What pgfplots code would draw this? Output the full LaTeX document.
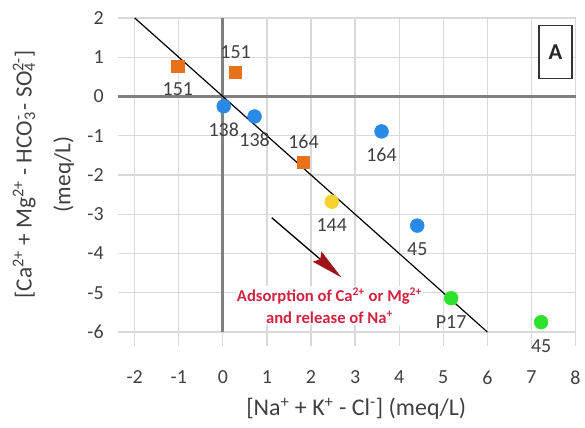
\documentclass[border=0pt]{standalone}
\usepackage{fontspec}
\setmainfont{Carlito}
\usepackage{pgfplots}
\pgfplotsset{compat=1.18}
\usetikzlibrary{arrows.meta}
\definecolor{gridC}{RGB}{217,217,217}
\definecolor{zeroC}{RGB}{128,128,128}
\definecolor{labelC}{RGB}{64,64,64}
\definecolor{orangeC}{RGB}{232,113,28}
\definecolor{blueC}{RGB}{40,138,230}
\definecolor{yellowC}{RGB}{245,210,45}
\definecolor{greenC}{RGB}{45,225,45}
\definecolor{redC}{RGB}{210,35,65}
\definecolor{arrowC}{RGB}{160,20,25}
\newcommand\subsup[2]{\rlap{\textsubscript{#1}}\textsuperscript{#2}}
\begin{document}
\begin{tikzpicture}
\begin{axis}[
  scale only axis, width=344.9pt, height=246.75pt,
  xmin=-2.385, xmax=8.02, ymin=-6.36, ymax=2,
  xtick={-2,-1,0,1,2,3,4,5,6,7,8}, ytick={-6,-5,-4,-3,-2,-1,0,1,2},
  axis line style={draw=none}, major tick style={draw=none},
  grid=major, grid style={color=gridC, line width=0.9pt},
  /pgf/number format/assume math mode=true,
  tick label style={font=\fontsize{15}{18}\selectfont, text=labelC},
  xticklabel style={yshift=-15pt},
  yticklabel style={xshift=-7pt},
  xlabel={[Na\textsuperscript{+} + K\textsuperscript{+} - Cl\textsuperscript{-}] (meq/L)},
  xlabel style={at={(axis description cs:0.52,-0.191)}, anchor=center, font=\fontsize{18}{22}\selectfont, text=labelC},
  ylabel={[Ca\textsuperscript{2+} + Mg\textsuperscript{2+} - HCO\subsup{3}{-} - SO\subsup{4}{2-}]\\(meq/L)},
  ylabel style={at={(axis description cs:-0.162,0.523)}, anchor=center, align=center, font=\fontsize{17.5}{29}\selectfont, text=labelC},
  clip=false,
  every node near coord/.append style={font=\fontsize{15}{18}\selectfont, text=labelC, anchor=center},
]
% zero lines
\addplot[zeroC, line width=2.2pt] coordinates {(-2.385,0) (8.02,0)};
\addplot[zeroC, line width=2.2pt] coordinates {(0,-6) (0,2)};
% orange squares, labels below
\addplot[only marks, mark=square*, mark size=4.6pt, color=orangeC,
  nodes near coords, point meta=explicit symbolic,
  every node near coord/.append style={yshift=-17pt}]
  table[meta=l] {
x y l
-1.02 0.76 151
};
% orange squares, labels above
\addplot[only marks, mark=square*, mark size=4.6pt, color=orangeC,
  nodes near coords, point meta=explicit symbolic,
  every node near coord/.append style={yshift=15pt}]
  table[meta=l] {
x y l
0.29 0.61 151
1.83 -1.67 164
};
% blue circles
\addplot[only marks, mark=*, mark size=5.2pt, color=blueC,
  nodes near coords, point meta=explicit symbolic,
  every node near coord/.append style={yshift=-17.5pt}]
  table[meta=l] {
x y l
0.02 -0.25 138
0.72 -0.51 138
3.60 -0.89 164
4.41 -3.29 45
};
% yellow
\addplot[only marks, mark=*, mark size=5.2pt, color=yellowC,
  nodes near coords, point meta=explicit symbolic,
  every node near coord/.append style={yshift=-17.5pt}]
  table[meta=l] {
x y l
2.47 -2.68 144
};
% green
\addplot[only marks, mark=*, mark size=5.2pt, color=greenC,
  nodes near coords, point meta=explicit symbolic,
  every node near coord/.append style={yshift=-18pt}]
  table[meta=l] {
x y l
5.18 -5.14 P17
7.22 -5.75 45
};
% 1:1 line
\addplot[black, line width=0.9pt] coordinates {(-2,2) (6,-6)};
% arrow
\draw[black, line width=1pt, -{Stealth[length=24pt, width=10pt, inset=3pt, color=arrowC]}]
  (axis cs:1.11,-3.09) -- (axis cs:2.69,-4.61);
\node[align=center, text=redC, fill=white, inner sep=1pt,
  font=\bfseries\fontsize{12.5}{17}\selectfont]
  at (axis cs:2.42,-5.33) {Adsorption of Ca\textsuperscript{2+} or Mg\textsuperscript{2+}\\and release of Na\textsuperscript{+}};
% panel letter
\draw[line width=0.9pt, black!80, fill=white] (axis cs:7.17,1.80) rectangle (axis cs:7.92,0.46);
\node[font=\bfseries\fontsize{17}{20}\selectfont, text=black!85] at (axis cs:7.545,1.13) {A};
\end{axis}
\path[use as bounding box] ([xshift=-88.5pt,yshift=-61.5pt]current axis.south west) rectangle ([xshift=5.25pt,yshift=13.5pt]current axis.north east);
\end{tikzpicture}
\end{document}
